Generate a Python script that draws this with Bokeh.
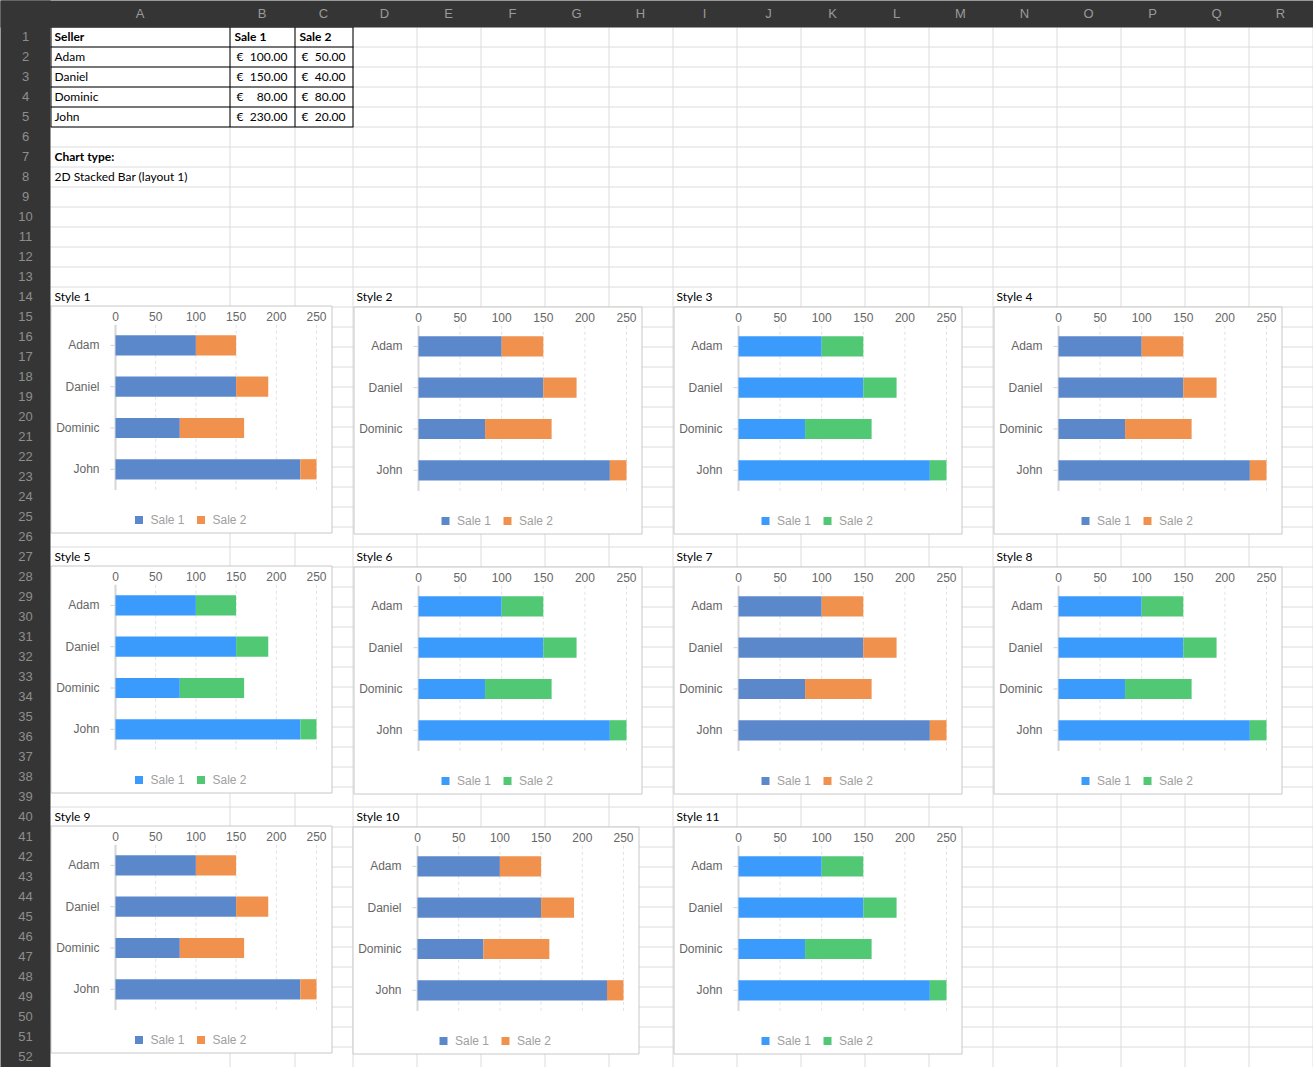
import numpy as np
from bokeh.plotting import figure
from bokeh.models import Range1d, ColumnDataSource
from bokeh.embed import file_html
from bokeh.resources import INLINE
from bokeh.core.properties import value

# ---------------- data ----------------
sellers = ["Adam", "Daniel", "Dominic", "John"]
sale1 = [100, 150, 80, 230]
sale2 = [50, 40, 80, 20]
series_names = ["Sale 1", "Sale 2"]
x_ticks = [0, 50, 100, 150, 200, 250]
x_max = 250
col_letters = list("ABCDEFGHIJKLMNOPQR")
n_rows = 52
chart_type = "2D Stacked Bar (layout 1)"
style_names = ["Style %d" % i for i in range(1, 12)]
style_palettes = ["classic", "classic", "bright", "classic", "bright", "bright",
                  "classic", "bright", "classic", "classic", "bright"]

# ---------------- styling / layout ----------------
W, H = 1313, 1067
PALETTES = {"classic": ("#5B88CB", "#F0914E"), "bright": ("#3B9BFC", "#51C974")}
HEADER_BG = "#353535"
GRID_C = "#DCDCDC"
CELL_FONT = value("Lato")
CHART_FONT = value("Liberation Sans")

col_bounds = [50, 229, 294, 352] + [352 + 64 * k for k in range(1, 16)]
HDR_H = 27
ROW_H = 20

# chart column geometry: box left/right, pixel of 0 and of 250, dy, cell left
COLS = {
    "A": dict(box=(50, 331), zero=115, end=316, dy=-1, cell=50),
    "B": dict(box=(353, 641), zero=418, end=626, dy=0, cell=352),
    "C": dict(box=(673, 961), zero=738, end=946, dy=0, cell=672),
    "D": dict(box=(993, 1281), zero=1058, end=1266, dy=0, cell=992),
    "B2": dict(box=(352, 638), zero=417, end=623, dy=0, cell=352),
}
ROW_TOPS = [306.5, 566.5, 826.5]
placements = [("A", 0), ("B", 0), ("C", 0), ("D", 0),
              ("A", 1), ("B", 1), ("C", 1), ("D", 1),
              ("A", 2), ("B2", 2), ("C", 2)]
BOX_H = 227
CAT_C0 = 39.4
CAT_STEP = 41.3

# extra ranges
xr_d, yr_d = {}, {}
for k, (ck, r) in enumerate(placements):
    g = COLS[ck]
    T = ROW_TOPS[r] + g["dy"]
    ppu = (g["end"] - g["zero"]) / x_max
    xr_d["x%d" % k] = Range1d(start=-g["zero"] / ppu, end=(W - g["zero"]) / ppu)
    c0 = T + CAT_C0
    yr_d["y%d" % k] = Range1d(start=(H - c0) / CAT_STEP, end=(0 - c0) / CAT_STEP)

p = figure(width=W, height=H, x_range=Range1d(0, W), y_range=Range1d(H, 0),
           output_backend="svg", toolbar_location=None, min_border=0,
           x_axis_location=None, y_axis_location=None)
p.grid.visible = False
p.outline_line_color = None
p.background_fill_color = "white"
p.border_fill_color = "white"
p.extra_x_ranges = xr_d
p.extra_y_ranges = yr_d

# ---------------- spreadsheet grid ----------------
vx = [b + 0.5 for b in col_bounds[1:]]
p.segment(x0=vx, x1=vx, y0=HDR_H, y1=H, line_color=GRID_C, line_width=1)
hy = [HDR_H - 1 + ROW_H * n + 0.5 for n in range(1, n_rows)]
p.segment(x0=50, x1=W, y0=hy, y1=hy, line_color=GRID_C, line_width=1)

# ---------------- data table ----------------
tb_x = [50.5, 229.5, 294.5, 352.5]
tb_y = [HDR_H - 1 + ROW_H * n + 0.5 for n in range(0, 6)]
p.segment(x0=tb_x, x1=tb_x, y0=tb_y[0], y1=tb_y[-1], line_color="black", line_width=1)
p.segment(x0=50, x1=353, y0=tb_y, y1=tb_y, line_color="black", line_width=1)


def row_c(n):
    return HDR_H + ROW_H * (n - 1) + 9


hdr_y = row_c(1)
p.text(x=[54, 234, 299], y=[hdr_y] * 3, text=["Seller"] + series_names,
       text_font=CELL_FONT, text_font_size="12px", text_font_style="bold",
       text_color="black", text_baseline="middle", text_align="left")
ry = [row_c(n) for n in range(2, 6)]
p.text(x=[54] * 4, y=ry, text=sellers, text_font=CELL_FONT, text_font_size="12px",
       text_color="black", text_baseline="middle", text_align="left")
p.text(x=[236] * 4 + [301] * 4, y=ry + ry, text=["€"] * 8, text_font=CELL_FONT,
       text_font_size="12px", text_color="black", text_baseline="middle", text_align="left")
p.text(x=[287] * 4 + [345] * 4, y=ry + ry,
       text=["%.2f" % v for v in sale1] + ["%.2f" % v for v in sale2],
       text_font=CELL_FONT, text_font_size="12px", text_color="black",
       text_baseline="middle", text_align="right")
p.text(x=[54], y=[row_c(7)], text=["Chart type:"], text_font=CELL_FONT, text_font_size="12px",
       text_font_style="bold", text_color="black", text_baseline="middle")
p.text(x=[54], y=[row_c(8)], text=[chart_type], text_font=CELL_FONT, text_font_size="12px",
       text_color="black", text_baseline="middle")

# ---------------- charts ----------------
cum = [a + b for a, b in zip(sale1, sale2)]
idx = list(range(len(sellers)))
src = ColumnDataSource(dict(y=idx, s1=sale1, cum=cum, name=sellers))

for k, (ck, r) in enumerate(placements):
    g = COLS[ck]
    T = ROW_TOPS[r] + g["dy"]
    bx0, bx1 = g["box"]
    ppu = (g["end"] - g["zero"]) / x_max
    c1, c2 = PALETTES[style_palettes[k]]
    xn, yn = "x%d" % k, "y%d" % k

    # style label in the cell above the chart
    p.text(x=[g["cell"] + 4], y=[ROW_TOPS[r] - 10.5], text=[style_names[k]],
           text_font=CELL_FONT, text_font_size="12px", text_color="black",
           text_baseline="middle")
    # chart area
    p.quad(left=bx0 + 0.5, right=bx1 + 0.5, top=T, bottom=T + BOX_H,
           fill_color="white", line_color="#C8C8C8", line_width=1)
    # vertical dashed grid lines
    gx = x_ticks[1:]
    p.segment(x0=gx, x1=gx, y0=-0.5, y1=3.5, line_color="#E2E2E2", line_width=1,
              line_dash="3 3", x_range_name=xn, y_range_name=yn)
    # axis line and category ticks
    p.segment(x0=[0], x1=[0], y0=[-0.5], y1=[3.5], line_color="#D6D6D6", line_width=2,
              x_range_name=xn, y_range_name=yn)
    p.segment(x0=-5 / ppu, x1=-1 / ppu, y0=idx, y1=idx, line_color="#D0D0D0", line_width=1,
              x_range_name=xn, y_range_name=yn)
    # stacked bars
    p.hbar(y="y", left=0, right="s1", height=0.49, fill_color=c1, line_color=None,
           source=src, x_range_name=xn, y_range_name=yn)
    p.hbar(y="y", left="s1", right="cum", height=0.49, fill_color=c2, line_color=None,
           source=src, x_range_name=xn, y_range_name=yn)
    # value axis tick labels (top)
    p.text(x=x_ticks, y=[(10 - CAT_C0) / CAT_STEP] * len(x_ticks),
           text=[str(t) for t in x_ticks], text_font=CHART_FONT, text_font_size="12px",
           text_color="#666666", text_align="center", text_baseline="middle",
           x_range_name=xn, y_range_name=yn)
    # category labels
    p.text(x=[-16 / ppu] * len(sellers), y=idx, text=sellers, text_font=CHART_FONT,
           text_font_size="12px", text_color="#666666", text_align="right",
           text_baseline="middle", x_range_name=xn, y_range_name=yn)
    # legend
    cx = (bx0 + bx1) / 2.0
    ly = T + 214
    p.rect(x=[cx - 52, cx + 10], y=[ly, ly], width=8, height=8,
           fill_color=[c1, c2], line_color=None)
    p.text(x=[cx - 40.5, cx + 21.5], y=[ly, ly], text=series_names, text_font=CHART_FONT,
           text_font_size="12px", text_color="#A0A0A0", text_baseline="middle",
           text_align="left")

# ---------------- sheet headers ----------------
p.quad(left=-2, right=W + 2, top=-2, bottom=HDR_H, fill_color=HEADER_BG, line_color=None)
p.quad(left=-2, right=50, top=-2, bottom=H + 2, fill_color=HEADER_BG, line_color=None)
ccx = [(col_bounds[i] + col_bounds[i + 1]) / 2.0 for i in range(len(col_letters))]
p.text(x=ccx, y=[HDR_H / 2.0 - 0.5] * len(ccx), text=col_letters, text_font=CHART_FONT,
       text_font_size="13px", text_color="#9A9A9A", text_align="center", text_baseline="middle")
rn = list(range(1, n_rows + 1))
p.text(x=[25] * n_rows, y=[row_c(n) for n in rn], text=[str(n) for n in rn],
       text_font=CHART_FONT, text_font_size="13px", text_color="#8E8E8E",
       text_align="center", text_baseline="middle")

open("out.html", "w").write(file_html(p, INLINE))
